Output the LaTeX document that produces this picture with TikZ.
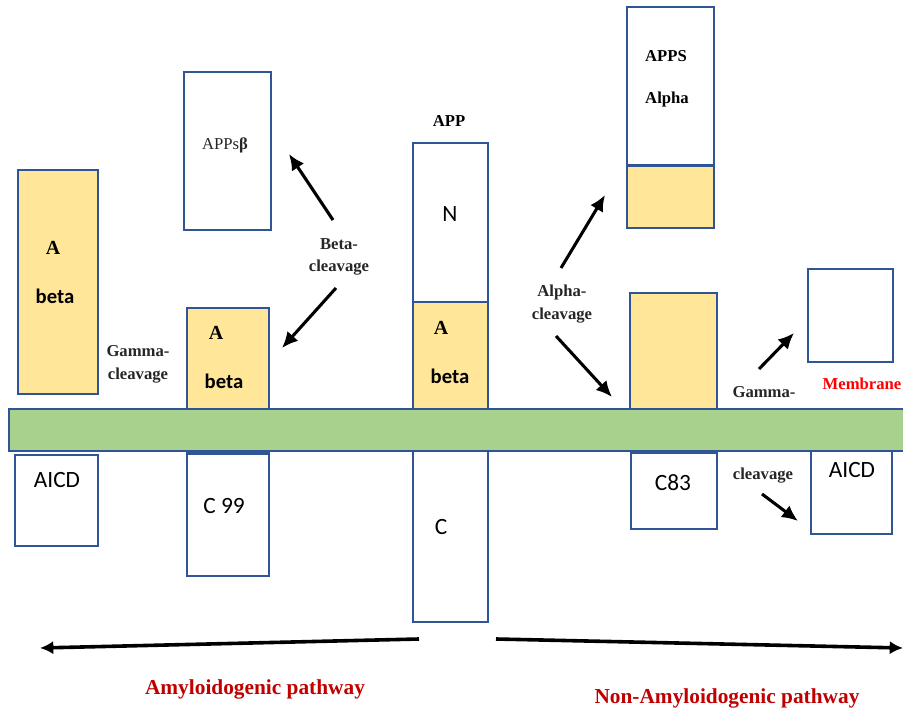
\documentclass[tikz,border=0pt]{standalone}
\usepackage{fontspec}
\setmainfont{Liberation Serif}
\newfontfamily\calfont{Carlito}
\usetikzlibrary{arrows.meta,fit}
\definecolor{bblue}{RGB}{47,85,151}
\definecolor{ayellow}{RGB}{255,230,153}
\definecolor{mgreen}{RGB}{169,209,142}
\definecolor{lgray}{RGB}{38,38,38}
\definecolor{pathred}{RGB}{192,0,0}
\begin{document}
\begin{tikzpicture}[x=0.75pt,y=-0.75pt,
  box/.style={draw=bblue, line width=1.1pt, inner sep=0pt, fill=white},
  ybox/.style={box, fill=ayellow},
  membr/.style={draw=bblue, line width=1.1pt, inner sep=0pt, fill=mgreen},
  lbl/.style={font=\bfseries\fontsize{12.5}{17}\selectfont, text=lgray, align=center, inner sep=0pt},
  callbl/.style={font=\calfont\fontsize{17.5}{20}\selectfont, inner sep=0pt},
  calb/.style={font=\calfont\bfseries\fontsize{15.5}{18}\selectfont, inner sep=0pt},
  bigA/.style={font=\bfseries\fontsize{15}{17}\selectfont, inner sep=0pt},
  arr/.style={line width=2.3pt, -{Latex[length=12pt,width=11pt]}},
  longarr/.style={line width=2.7pt, -{Latex[length=10pt,width=10pt]}},
  pathlbl/.style={font=\bfseries\fontsize{16}{19}\selectfont, text=pathred, inner sep=0pt}]
\useasboundingbox (0,0) rectangle (903,713);

% ---- boxes above/below membrane
\node[ybox, fit={(18,170) (98,394)}] (abl) {};
\node[box, fit={(184,72) (271,230)}] (appsb) {};
\node[ybox, fit={(187,308) (269,412)}] (abm) {};
\node[box, fit={(15,455) (98,546)}] (aicdl) {};
\node[box, fit={(187,454) (269,576)}] (c99) {};
\draw[bblue, line width=2.2pt] (c99.north west) -- (c99.north east);
\node[box, fit={(413,143) (488,302)}] (appn) {};
\node[ybox, fit={(413,302) (488,412)}] (appab) {};
\node[box, fit={(413,448) (488,622)}] (appc) {};
\node[box, fit={(627,7) (714,166)}] (appsa) {};
\node[ybox, fit={(627,166) (714,228)}] (appsay) {};
\draw[bblue, line width=2.2pt] (appsay.north west) -- (appsay.north east);
\node[ybox, fit={(630,293) (717,412)}] (c83y) {};
\node[box, fit={(631,453) (717,529)}] (c83) {};
\node[box, fit={(808,269) (893,362)}] (pbox) {};
\node[box, fit={(811,450) (892,534)}] (aicdr) {};

% ---- membrane
\node[membr, fit={(9,409) (908,451)}] (mem) {};

% ---- texts
\node[bigA] (tA1) at (53,248) {A};
\node[calb] (tb1) at (55,296) {beta};
\node[font=\fontsize{12.5}{15}\selectfont, text=lgray, inner sep=0pt] (tappsb) at (225,145) {APPs{\bfseries β}};
\node[bigA] (tA2) at (216,333) {A};
\node[calb] (tb2) at (224,381) {beta};
\node[lbl] (gam1) at (138,364) {Gamma-\\cleavage};
\node[callbl] (taicdl) at (57,480) {AICD};
\node[callbl] (tc99) at (224,506) {C 99};
\node[lbl] (betac) at (339,257) {Beta-\\cleavage};
\node[lbl, text=black] (tapp) at (449,121) {APP};
\node[callbl] (tn) at (450,214) {N};
\node[bigA] (tA3) at (441,328) {A};
\node[calb] (tb3) at (450,376) {beta};
\node[callbl] (tc) at (441,527) {C};
\node[lbl] (alphac) at (562,304) {Alpha-\\cleavage};
\node[lbl, text=black] (tapps) at (666,56) {APPS};
\node[lbl, text=black] (talpha) at (667,99) {Alpha};
\node[callbl] (tc83) at (673,483) {C83};
\node[lbl] (gam2) at (764,392) {Gamma-};
\node[lbl] (clv2) at (763,476) {cleavage};
\node[lbl, text=red] (tmem) at (862,384) {Membrane};
\node[callbl] (taicdr) at (852,470) {AICD};
\node[pathlbl] (amy) at (255,689) {Amyloidogenic pathway};
\node[pathlbl] (namy) at (727,698) {Non-Amyloidogenic pathway};

% ---- arrow end points
\coordinate (b1s) at (333,220); \coordinate (b1e) at (289,154);
\coordinate (b2s) at (336,288); \coordinate (b2e) at (282,348);
\coordinate (a1s) at (561,268); \coordinate (a1e) at (605,195);
\coordinate (a2s) at (556,336); \coordinate (a2e) at (612,397);
\coordinate (g1s) at (759,369); \coordinate (g1e) at (794,333);
\coordinate (g2s) at (762,494); \coordinate (g2e) at (798,521);
\coordinate (ls) at (419,639); \coordinate (le) at (40,648);
\coordinate (rs) at (496,639); \coordinate (re) at (903,648);

\draw[arr] (b1s) -- (b1e);
\draw[arr] (b2s) -- (b2e);
\draw[arr] (a1s) -- (a1e);
\draw[arr] (a2s) -- (a2e);
\draw[arr] (g1s) -- (g1e);
\draw[arr] (g2s) -- (g2e);
\draw[longarr] (ls) -- (le);
\draw[longarr] (rs) -- (re);
\end{tikzpicture}
\end{document}
